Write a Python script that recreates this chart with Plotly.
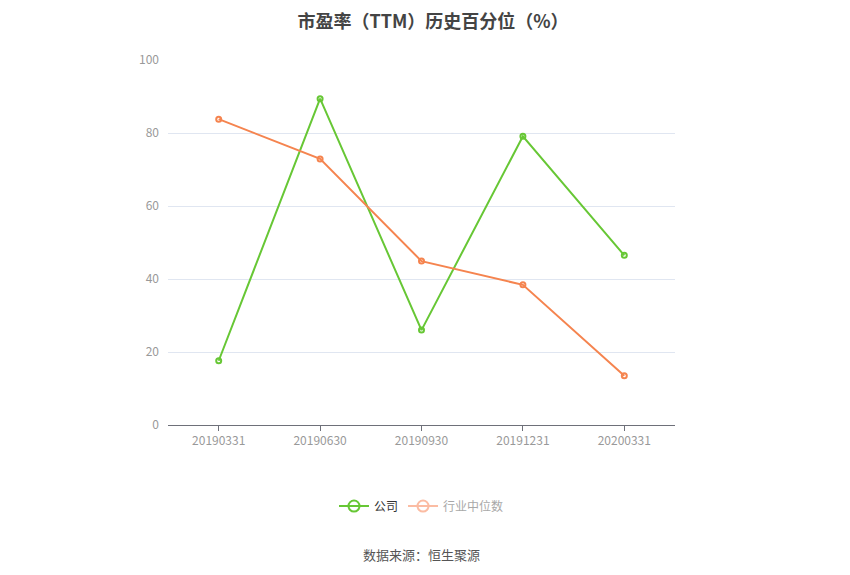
import plotly.graph_objects as go

dates = ["20190331", "20190630", "20190930", "20191231", "20200331"]
company = [17.6, 89.4, 26.0, 79.1, 46.5]
industry_median = [83.8, 72.9, 44.9, 38.4, 13.5]

green = "#67c735"
orange = "#f5844f"
font_cn = "Noto Sans CJK SC"

fig = go.Figure()

# the lines themselves
fig.add_trace(go.Scatter(x=dates, y=company, mode="lines+markers", showlegend=False,
                         line=dict(color=green, width=2),
                         marker=dict(symbol="circle-open", size=5, color=green, line=dict(width=2))))
fig.add_trace(go.Scatter(x=dates, y=industry_median, mode="lines+markers", showlegend=False,
                         line=dict(color=orange, width=2),
                         marker=dict(symbol="circle-open", size=5, color=orange, line=dict(width=2))))

# legend entries
fig.add_trace(go.Scatter(x=[None], y=[None], mode="lines+markers", name="公司",
                         line=dict(color=green, width=2),
                         marker=dict(symbol="circle-open", size=11, color=green, line=dict(width=2))))
fig.add_trace(go.Scatter(x=[None], y=[None], mode="lines+markers",
                         name="<span style='color:#a8a8a8'>行业中位数</span>",
                         line=dict(color="#fbbca3", width=2),
                         marker=dict(symbol="circle-open", size=11, color="#fbbca3", line=dict(width=2))))

fig.update_layout(
    width=850, height=575,
    paper_bgcolor="white", plot_bgcolor="white",
    font=dict(family=font_cn, color="#999999", size=12),
    title=dict(text="<b>市盈率（TTM）历史百分位（%）</b>", x=0.5, y=0.976, xanchor="center",
               yanchor="middle", font=dict(size=18, color="#444444", family=font_cn)),
    margin=dict(l=160, r=183, t=52, b=158),
    legend=dict(orientation="h", x=0.5, xanchor="center", y=-0.222, yanchor="middle",
                font=dict(size=12, color="#333333"), itemwidth=30),
    annotations=[dict(text="数据来源：恒生聚源", x=0.5, y=-0.356, xref="paper", yref="paper",
                      yanchor="middle", showarrow=False,
                      font=dict(size=13, color="#555555", family=font_cn))],
)

fig.update_xaxes(type="category", range=[-0.5, 4.5], showgrid=False,
                 showline=True, linecolor="#6e7079", linewidth=1,
                 ticks="outside", ticklen=5, tickcolor="#6e7079",
                 tickfont=dict(size=12, color="#999999"))
fig.update_yaxes(range=[0, 100], dtick=20, showgrid=True, gridcolor="#e0e6f1",
                 zeroline=False, showline=False, ticks="", ticklabelstandoff=8,
                 tickfont=dict(size=12, color="#999999"))

fig.write_html("out.html")
